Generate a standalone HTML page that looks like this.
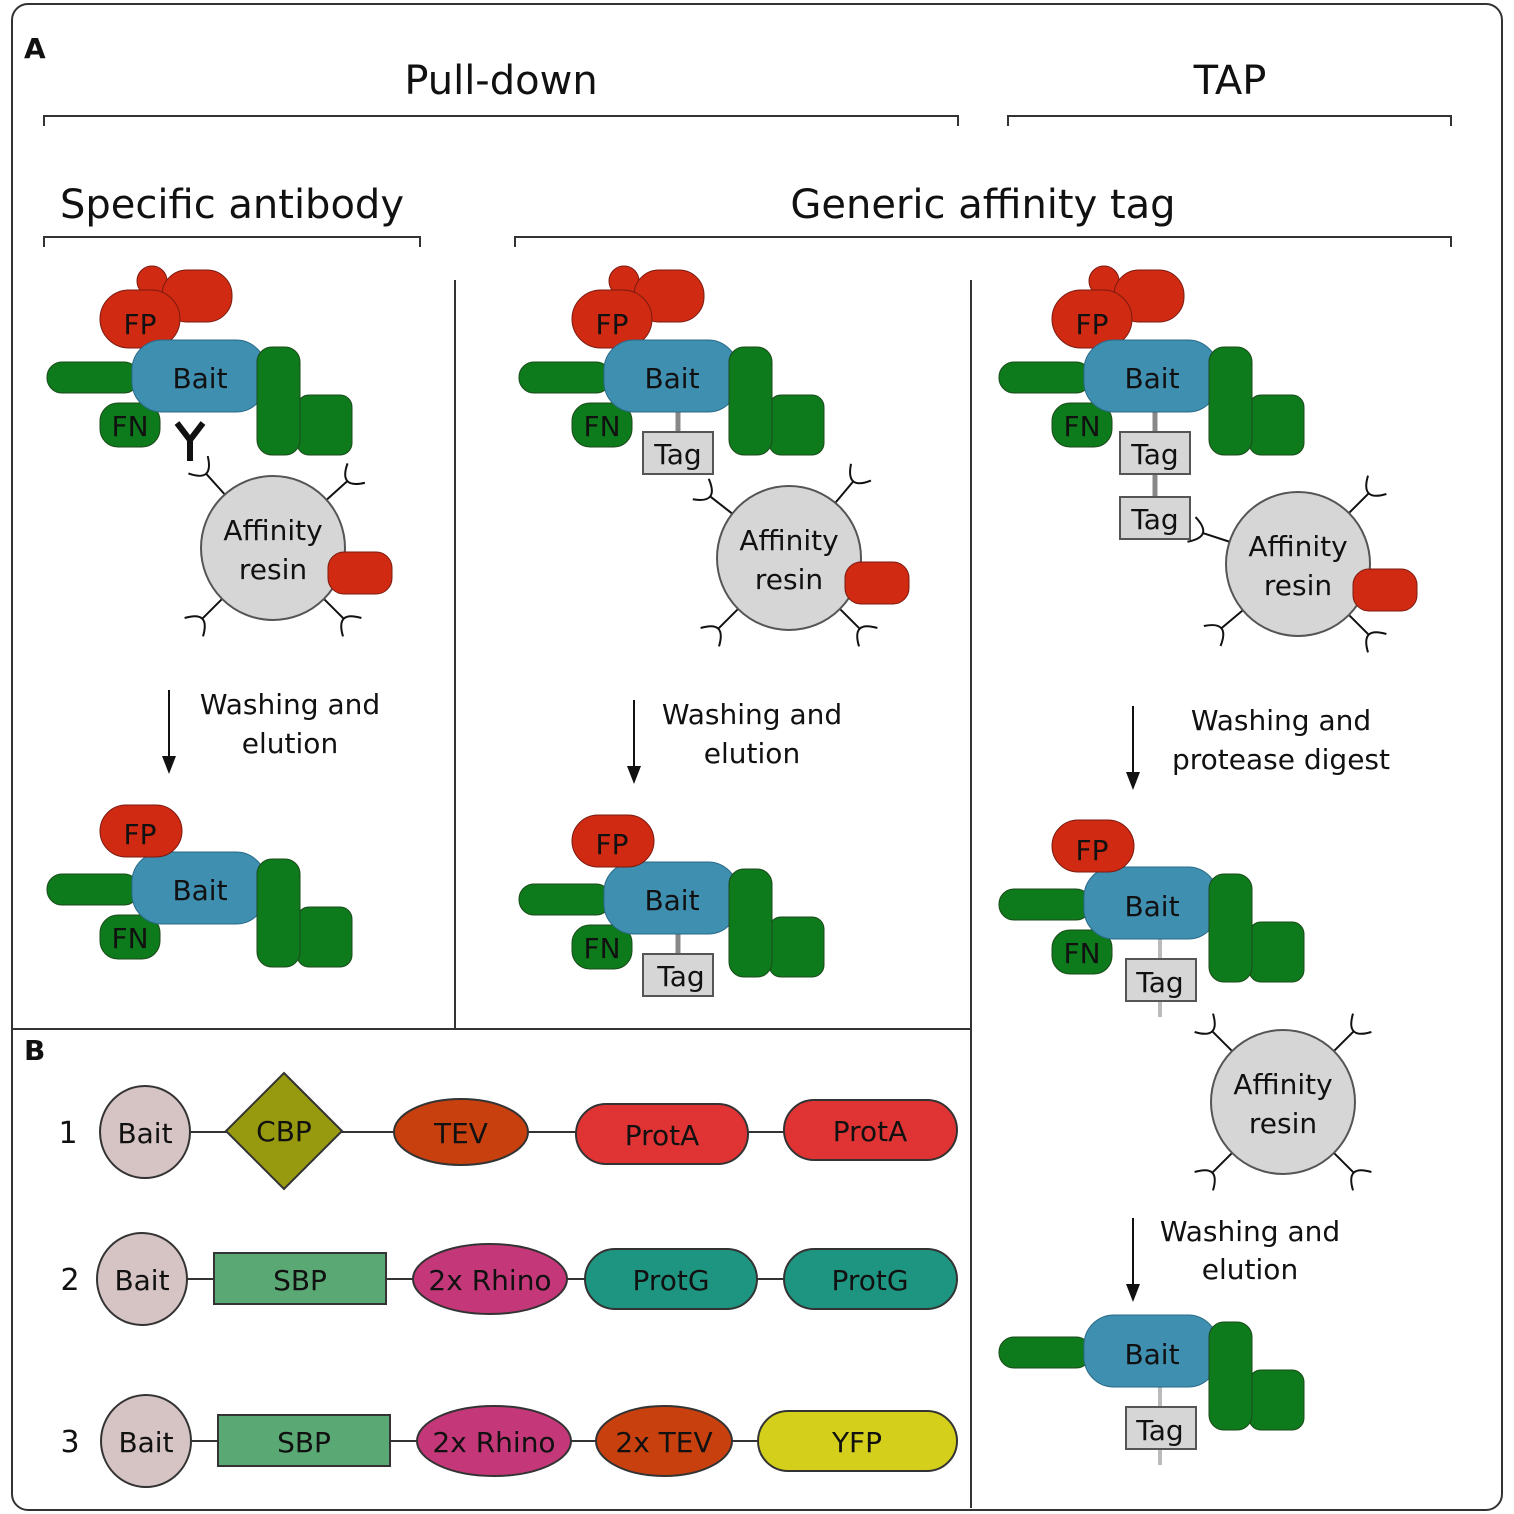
<!DOCTYPE html>
<html><head><meta charset="utf-8"><style>
html,body{margin:0;padding:0;background:#fff}
svg{display:block}
text{font-family:"DejaVu Sans","Liberation Sans",sans-serif;fill:#111}
</style></head><body>
<svg width="1514" height="1514" viewBox="0 0 1514 1514" xmlns="http://www.w3.org/2000/svg">
<defs>
<g id="core" stroke="#1a4a1a" stroke-width="1">
  <rect x="47" y="362" width="92" height="31" rx="15" fill="#0d7a1c"/>
  <rect x="100" y="403" width="60" height="44" rx="18" fill="#0d7a1c"/>
  <rect x="132" y="340" width="134" height="72" rx="30" fill="#3f8fb1" stroke="#2a6a88"/>
  <rect x="297" y="395" width="55" height="60" rx="12" fill="#0d7a1c"/>
  <rect x="257" y="347" width="43" height="108" rx="15" fill="#0d7a1c"/>
</g>
<g id="fpfull" stroke="#7a1a10" stroke-width="1">
  <circle cx="152" cy="281" r="15" fill="#d12a12"/>
  <rect x="162" y="270" width="70" height="52" rx="25" fill="#d12a12"/>
  <rect x="100" y="290" width="80" height="58" rx="29" fill="#d12a12"/>
</g>
<g id="fp" stroke="#7a1a10" stroke-width="1">
  <rect x="100" y="805" width="82" height="52" rx="26" fill="#d12a12"/>
</g>
<g id="ant" fill="none" stroke="#111" stroke-width="2">
  <path d="M0,-72 L0,-100 M-13,-112 Q0,-88 13,-112"/>
</g>
<g id="resinc">
  <circle r="72" fill="#d6d6d6" stroke="#555" stroke-width="2"/>
</g>
<g id="tag"><rect x="0" y="0" width="70" height="42" fill="#d6d6d6" stroke="#555" stroke-width="2"/></g>
</defs>

<rect x="12" y="4" width="1490" height="1506" rx="16" fill="#fff" stroke="#333" stroke-width="2"/>

<text x="24" y="58" font-size="28" font-weight="bold">A</text>
<text x="24" y="1060" font-size="28" font-weight="bold">B</text>

<!-- headings -->
<g fill="none" stroke="#333" stroke-width="2">
  <path d="M44,126 V116 H958 V126"/>
  <path d="M1008,126 V116 H1451 V126"/>
  <path d="M44,247 V237 H420 V247"/>
  <path d="M515,247 V237 H1451 V247"/>
  <path d="M455,280 V1028"/>
  <path d="M971,280 V1508"/>
  <path d="M12,1029 H971"/>
</g>
<text x="501" y="94" font-size="40" text-anchor="middle">Pull-down</text>
<text x="1230" y="94" font-size="40" text-anchor="middle">TAP</text>
<text x="232" y="218" font-size="40" text-anchor="middle">Specific antibody</text>
<text x="983" y="218" font-size="40" text-anchor="middle">Generic affinity tag</text>

<!-- Panel 1 top -->
<use href="#fpfull"/>
<use href="#core"/>
<text x="140" y="334" font-size="28" text-anchor="middle">FP</text>
<text x="200" y="388" font-size="28" text-anchor="middle">Bait</text>
<text x="130" y="436" font-size="28" text-anchor="middle">FN</text>
<!-- antibody -->
<g stroke="#111" stroke-width="6" fill="none" stroke-linejoin="miter">
  <path d="M190,461 V440 L177,423 M190,440 L203,423"/>
</g>
<g transform="translate(273,548)">
  <use href="#ant" transform="rotate(-42)"/>
  <use href="#ant" transform="rotate(48)"/>
  <use href="#ant" transform="rotate(135)"/>
  <use href="#ant" transform="rotate(-135)"/>
  <use href="#resinc"/>
</g>
<rect x="328" y="552" width="64" height="42" rx="16" fill="#d12a12" stroke="#7a1a10"/>
<text x="273" y="540" font-size="28" text-anchor="middle">Affinity</text>
<text x="273" y="579" font-size="28" text-anchor="middle">resin</text>

<!-- arrow 1 -->
<path d="M169,690 V760" stroke="#111" stroke-width="2"/>
<path d="M162,756 L169,774 L176,756 Z" fill="#111"/>
<text x="290" y="714" font-size="28" text-anchor="middle">Washing and</text>
<text x="290" y="753" font-size="28" text-anchor="middle">elution</text>

<!-- panel 1 bottom -->
<g transform="translate(0,512)"><use href="#core"/></g>
<use href="#fp"/>
<text x="140" y="844" font-size="28" text-anchor="middle">FP</text>
<text x="200" y="900" font-size="28" text-anchor="middle">Bait</text>
<text x="130" y="948" font-size="28" text-anchor="middle">FN</text>

<!-- Panel 2 top -->
<g transform="translate(472,0)">
  <path d="M206,412 V432" stroke="#888" stroke-width="5"/>
  <use href="#fpfull"/><use href="#core"/>
  <use href="#tag" x="171" y="432"/>
</g>
<text x="612" y="334" font-size="28" text-anchor="middle">FP</text>
<text x="672" y="388" font-size="28" text-anchor="middle">Bait</text>
<text x="602" y="436" font-size="28" text-anchor="middle">FN</text>
<text x="678" y="464" font-size="28" text-anchor="middle">Tag</text>
<g transform="translate(789,558)">
  <use href="#ant" transform="rotate(-52)"/>
  <use href="#ant" transform="rotate(40)"/>
  <use href="#ant" transform="rotate(135)"/>
  <use href="#ant" transform="rotate(-135)"/>
  <use href="#resinc"/>
</g>
<rect x="845" y="562" width="64" height="42" rx="16" fill="#d12a12" stroke="#7a1a10"/>
<text x="789" y="550" font-size="28" text-anchor="middle">Affinity</text>
<text x="789" y="589" font-size="28" text-anchor="middle">resin</text>

<path d="M634,700 V770" stroke="#111" stroke-width="2"/>
<path d="M627,766 L634,784 L641,766 Z" fill="#111"/>
<text x="752" y="724" font-size="28" text-anchor="middle">Washing and</text>
<text x="752" y="763" font-size="28" text-anchor="middle">elution</text>

<g transform="translate(472,522)">
  <path d="M206,412 V432" stroke="#888" stroke-width="5"/>
  <use href="#core"/>
  <use href="#tag" x="171" y="432"/>
</g>
<g transform="translate(472,10)"><use href="#fp"/></g>
<text x="612" y="854" font-size="28" text-anchor="middle">FP</text>
<text x="672" y="910" font-size="28" text-anchor="middle">Bait</text>
<text x="602" y="958" font-size="28" text-anchor="middle">FN</text>
<text x="681" y="986" font-size="28" text-anchor="middle">Tag</text>

<!-- Panel 3 top -->
<g transform="translate(952,0)">
  <path d="M203,412 V497" stroke="#888" stroke-width="5"/>
  <use href="#fpfull"/><use href="#core"/>
  <use href="#tag" x="168" y="432"/>
  <use href="#tag" x="168" y="497"/>
</g>
<text x="1092" y="334" font-size="28" text-anchor="middle">FP</text>
<text x="1152" y="388" font-size="28" text-anchor="middle">Bait</text>
<text x="1082" y="436" font-size="28" text-anchor="middle">FN</text>
<text x="1155" y="464" font-size="28" text-anchor="middle">Tag</text>
<text x="1155" y="529" font-size="28" text-anchor="middle">Tag</text>
<g transform="translate(1298,564)">
  <use href="#ant" transform="rotate(-72)"/>
  <use href="#ant" transform="rotate(45)"/>
  <use href="#ant" transform="rotate(135)"/>
  <use href="#ant" transform="rotate(-130)"/>
  <use href="#resinc"/>
</g>
<rect x="1353" y="569" width="64" height="42" rx="16" fill="#d12a12" stroke="#7a1a10"/>
<text x="1298" y="556" font-size="28" text-anchor="middle">Affinity</text>
<text x="1298" y="595" font-size="28" text-anchor="middle">resin</text>

<path d="M1133,706 V776" stroke="#111" stroke-width="2"/>
<path d="M1126,772 L1133,790 L1140,772 Z" fill="#111"/>
<text x="1281" y="730" font-size="28" text-anchor="middle">Washing and</text>
<text x="1281" y="769" font-size="28" text-anchor="middle">protease digest</text>

<g transform="translate(952,527)">
  <path d="M208,412 V490" stroke="#bbb" stroke-width="4"/>
  <use href="#core"/>
  <use href="#tag" x="174" y="432"/>
</g>
<g transform="translate(952,15)"><use href="#fp"/></g>
<text x="1092" y="860" font-size="28" text-anchor="middle">FP</text>
<text x="1152" y="916" font-size="28" text-anchor="middle">Bait</text>
<text x="1082" y="963" font-size="28" text-anchor="middle">FN</text>
<text x="1160" y="992" font-size="28" text-anchor="middle">Tag</text>

<g transform="translate(1283,1102)">
  <use href="#ant" transform="rotate(-45)"/>
  <use href="#ant" transform="rotate(45)"/>
  <use href="#ant" transform="rotate(135)"/>
  <use href="#ant" transform="rotate(-135)"/>
  <use href="#resinc"/>
</g>
<text x="1283" y="1094" font-size="28" text-anchor="middle">Affinity</text>
<text x="1283" y="1133" font-size="28" text-anchor="middle">resin</text>

<path d="M1133,1218 V1288" stroke="#111" stroke-width="2"/>
<path d="M1126,1284 L1133,1302 L1140,1284 Z" fill="#111"/>
<text x="1250" y="1241" font-size="28" text-anchor="middle">Washing and</text>
<text x="1250" y="1279" font-size="28" text-anchor="middle">elution</text>

<g transform="translate(952,975)">
  <path d="M208,412 V490" stroke="#bbb" stroke-width="4"/>
  <g stroke="#1a4a1a" stroke-width="1">
    <rect x="47" y="362" width="92" height="31" rx="15" fill="#0d7a1c"/>
    <rect x="132" y="340" width="134" height="72" rx="30" fill="#3f8fb1" stroke="#2a6a88"/>
    <rect x="297" y="395" width="55" height="60" rx="12" fill="#0d7a1c"/>
    <rect x="257" y="347" width="43" height="108" rx="15" fill="#0d7a1c"/>
  </g>
  <use href="#tag" x="174" y="432"/>
</g>
<text x="1152" y="1364" font-size="28" text-anchor="middle">Bait</text>
<text x="1160" y="1440" font-size="28" text-anchor="middle">Tag</text>

<!-- Panel B -->
<g stroke="#333" stroke-width="2">
  <path d="M190,1132 H957"/>
  <path d="M187,1279 H957"/>
  <path d="M191,1441 H957"/>
</g>
<g font-size="30">
<text x="68" y="1143" text-anchor="middle">1</text>
<text x="70" y="1290" text-anchor="middle">2</text>
<text x="70" y="1452" text-anchor="middle">3</text>
</g>
<g stroke="#333" stroke-width="2">
  <ellipse cx="145" cy="1132" rx="45" ry="46" fill="#d6c4c4"/>
  <path d="M284,1073 L342,1131 L284,1189 L226,1131 Z" fill="#979a0e"/>
  <ellipse cx="461" cy="1132" rx="67" ry="33" fill="#c9400f"/>
  <rect x="576" y="1104" width="172" height="60" rx="30" fill="#e03434"/>
  <rect x="784" y="1100" width="173" height="60" rx="30" fill="#e03434"/>

  <ellipse cx="142" cy="1279" rx="45" ry="46" fill="#d6c4c4"/>
  <rect x="214" y="1253" width="172" height="51" fill="#5aa873"/>
  <ellipse cx="490" cy="1279" rx="77" ry="35" fill="#c4387a"/>
  <rect x="585" y="1249" width="172" height="60" rx="30" fill="#1d9580"/>
  <rect x="784" y="1249" width="173" height="60" rx="30" fill="#1d9580"/>

  <ellipse cx="146" cy="1441" rx="45" ry="46" fill="#d6c4c4"/>
  <rect x="218" y="1415" width="172" height="51" fill="#5aa873"/>
  <ellipse cx="494" cy="1441" rx="77" ry="35" fill="#c4387a"/>
  <ellipse cx="664" cy="1441" rx="68" ry="35" fill="#c9400f"/>
  <rect x="758" y="1411" width="199" height="60" rx="30" fill="#d4cf1a"/>
</g>
<g font-size="28" text-anchor="middle">
<text x="145" y="1143">Bait</text>
<text x="284" y="1141">CBP</text>
<text x="461" y="1143">TEV</text>
<text x="662" y="1145">ProtA</text>
<text x="870" y="1141">ProtA</text>
<text x="142" y="1290">Bait</text>
<text x="300" y="1290">SBP</text>
<text x="490" y="1290">2x Rhino</text>
<text x="671" y="1290">ProtG</text>
<text x="870" y="1290">ProtG</text>
<text x="146" y="1452">Bait</text>
<text x="304" y="1452">SBP</text>
<text x="494" y="1452">2x Rhino</text>
<text x="664" y="1452">2x TEV</text>
<text x="857" y="1452">YFP</text>
</g>
</svg>
</body></html>
